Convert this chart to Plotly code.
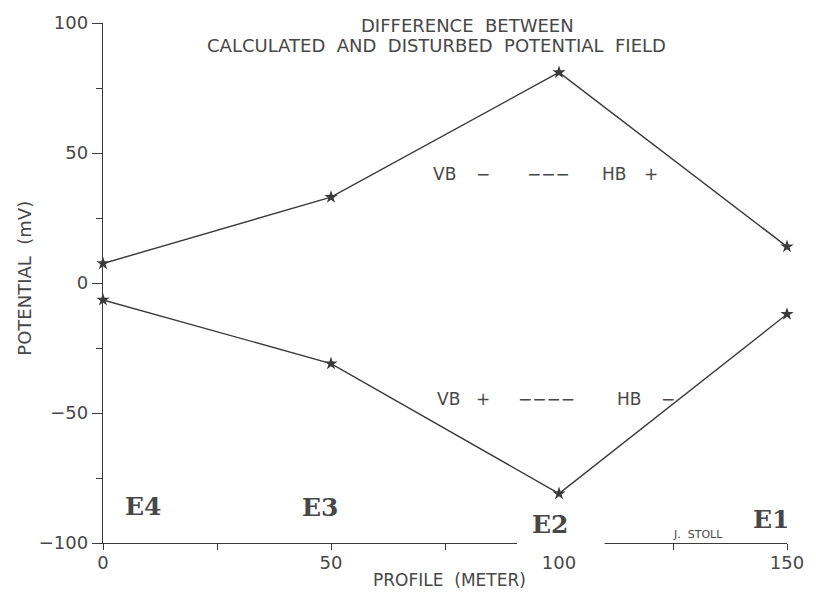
import plotly.graph_objects as go

# Profile positions (m) and potential differences (mV)
profile_m = [0, 50, 100, 150]
vb_minus_hb_plus = [7.5, 33, 81, 14]
vb_plus_hb_minus = [-6.5, -31, -81, -12]

# Electrode names at each profile station, with small horizontal nudges (px)
electrodes = ["E4", "E3", "E2", "E1"]
electrode_xshift = [40, -11, -9, -16]
electrode_y = [-86, -86.5, -93, -91]

x_tick_vals = [0, 50, 100, 150]
y_tick_vals = [-100, -50, 0, 50, 100]

INK = "#3a3a3a"
TEXT = "#474747"
SANS = "DejaVu Sans"
SLAB = "DejaVu Serif"

fig = go.Figure()

for series in (vb_minus_hb_plus, vb_plus_hb_minus):
    fig.add_trace(go.Scatter(
        x=profile_m, y=series, mode="lines+markers",
        line=dict(color=INK, width=1.4),
        marker=dict(symbol="star", size=10, color=INK),
        cliponaxis=False, showlegend=False, hoverinfo="x+y",
    ))

annotations = []

# Two-line heading
annotations.append(dict(text="DIFFERENCE  BETWEEN", x=0.533, y=0.996,
                        xref="paper", yref="paper", showarrow=False,
                        xanchor="center", yanchor="middle",
                        font=dict(family=SANS, size=18, color=TEXT)))
annotations.append(dict(text="CALCULATED  AND  DISTURBED  POTENTIAL  FIELD",
                        x=0.487, y=0.956, xref="paper", yref="paper",
                        showarrow=False, xanchor="center", yanchor="middle",
                        font=dict(family=SANS, size=18, color=TEXT)))

# Series labels: VB / HB polarity
upper_label = [("VB", 72.0), ("\u2212", 81.3), ("\u2212\u2212\u2212", 92.6),
               ("HB", 109.0), ("+", 118.2)]
lower_label = [("VB", 72.9), ("+", 81.3), ("\u2212\u2212\u2212\u2212", 90.5),
               ("HB", 112.2), ("\u2212", 122.0)]
for parts, yv in ((upper_label, 41.8), (lower_label, -44.5)):
    for txt, xv in parts:
        annotations.append(dict(text=txt, x=xv, y=yv, xref="x", yref="y",
                                showarrow=False, xanchor="left",
                                yanchor="middle",
                                font=dict(family=SANS, size=17, color=TEXT)))

# Electrode labels
for name, xv, dx, yv in zip(electrodes, profile_m, electrode_xshift, electrode_y):
    annotations.append(dict(text="<b>%s</b>" % name, x=xv, y=yv, xshift=dx,
                            xref="x", yref="y", showarrow=False,
                            xanchor="center", yanchor="middle",
                            font=dict(family=SLAB, size=25, color=TEXT)))

# Author mark
annotations.append(dict(text="J.  STOLL", x=130.5, y=-96.6, xref="x", yref="y",
                        showarrow=False, xanchor="center", yanchor="middle",
                        font=dict(family=SANS, size=11, color=TEXT)))

# Axis titles
annotations.append(dict(text="PROFILE  (METER)", x=0.506, y=-0.071,
                        xref="paper", yref="paper", showarrow=False,
                        xanchor="center", yanchor="middle", borderpad=0,
                        font=dict(family=SANS, size=17, color=TEXT)))
annotations.append(dict(text="POTENTIAL  (mV)", x=-0.115, y=0.509,
                        xref="paper", yref="paper", showarrow=False,
                        textangle=-90, xanchor="center", yanchor="middle",
                        font=dict(family=SANS, size=18, color=TEXT)))

# Break in the profile axis around the E2 label
x_min, x_max = 0, 150
gap_start, gap_end = 90.8, 110.0
shapes = [dict(type="rect", xref="x domain", yref="y domain",
               x0=(gap_start - x_min) / (x_max - x_min),
               x1=(gap_end - x_min) / (x_max - x_min),
               y0=-0.02, y1=0.012, fillcolor="white",
               line=dict(width=0), layer="above")]

fig.update_layout(
    width=816, height=592,
    margin=dict(l=103, r=19, t=22, b=49),
    paper_bgcolor="white", plot_bgcolor="white",
    annotations=annotations, shapes=shapes,
    font=dict(family=SANS, color=TEXT),
)

fig.update_xaxes(
    range=[x_min, x_max], tickvals=x_tick_vals,
    showgrid=False, zeroline=False,
    showline=True, linecolor=INK, linewidth=1.4,
    ticks="outside", ticklen=6, tickcolor=INK, tickwidth=1.2,
    minor=dict(dtick=25, tick0=0, ticks="outside", ticklen=6,
               tickcolor=INK, tickwidth=1.2, showgrid=False),
    tickfont=dict(family=SANS, size=18, color=TEXT),
    ticklabelstandoff=-3,
)
fig.update_yaxes(
    range=[-100, 100], tickvals=y_tick_vals,
    showgrid=False, zeroline=False,
    showline=True, linecolor=INK, linewidth=1.4,
    ticks="outside", ticklen=10, tickcolor=INK, tickwidth=1.2,
    minor=dict(dtick=25, tick0=0, ticks="outside", ticklen=6,
               tickcolor=INK, tickwidth=1.2, showgrid=False),
    tickfont=dict(family=SANS, size=18, color=TEXT),
)

fig.write_html("out.html")
